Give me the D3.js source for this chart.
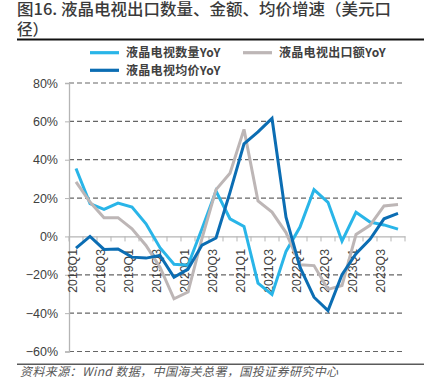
<!DOCTYPE html>
<html>
<head>
<meta charset="utf-8">
<script src="https://cdn.jsdelivr.net/npm/d3@7"></script>
<style>
  html, body { margin: 0; padding: 0; background: #fff; }
  svg { display: block; }
</style>
</head>
<body>
<svg id="chart" width="437" height="390"></svg>
<script>
// ---------- data ----------
const categories = [
  "2018Q1","2018Q2","2018Q3","2018Q4",
  "2019Q1","2019Q2","2019Q3","2019Q4",
  "2020Q1","2020Q2","2020Q3","2020Q4",
  "2021Q1","2021Q2","2021Q3","2021Q4",
  "2022Q1","2022Q2","2022Q3","2022Q4",
  "2023Q1","2023Q2","2023Q3","2023Q4"
];
const tickLabels = ["2018Q1","2018Q3","2019Q1","2019Q3","2020Q1","2020Q3",
                    "2021Q1","2021Q3","2022Q1","2022Q3","2023Q1","2023Q3"];
const qtyYoY = [35.4, 17.1, 14.1, 17.4, 15.3, 6.6, -5.9, -14.5,
                -15.0, 4.0, 23.7, 9.2, 5.2, -24.4, -30.3, -7.8,
                4.9, 24.4, 17.8, -2.5, 12.6, 7.5, 6.0, 3.8];
const amountYoY = [28.4, 17.9, 9.8, 9.8, 4.0, -4.7, -16.0, -32.5,
                   -29.0, -1.0, 24.4, 33.0, 55.8, 18.5, 12.7, 2.0,
                   -14.8, -15.2, -27.6, -25.6, 1.0, 5.8, 15.9, 16.6];
const priceYoY = [-6.1, 0.0, -6.8, -6.5, -10.8, -11.3, -9.9, -21.3,
                  -17.0, -4.5, -0.8, 23.0, 48.3, 54.5, 61.5, 10.0,
                  -16.0, -31.7, -38.7, -20.0, -9.0, -1.5, 9.2, 12.0];
const yTicks = [80, 60, 40, 20, 0, -20, -40, -60];
const seriesNames = ["液晶电视数量YoY", "液晶电视出口额YoY", "液晶电视均价YoY"];
const seriesColors = ["#29b5e8", "#bdb6b6", "#0b6db3"];
const titleLines = ["图16. 液晶电视出口数量、金额、均价增速（美元口", "径）"];
const sourceText = "资料来源：Wind 数据，中国海关总署，国投证券研究中心";

// ---------- layout ----------
const svg = d3.select("#chart");
const plot = { left: 69, right: 405, top: 83, bottom: 351.5 };
const cjk = "'Noto Sans CJK SC', 'Noto Sans', sans-serif";
const latin = "'Liberation Sans', Arial, sans-serif";

const x = d3.scaleBand().domain(categories).range([plot.left, plot.right]).padding(0);
const y = d3.scaleLinear().domain([-60, 80]).range([plot.bottom, plot.top]);
const cx = d => x(d) + x.bandwidth() / 2;

// title
const titleY = [14.5, 35];
const titles = svg.append("g").selectAll("text").data(titleLines).join("text")
  .attr("x", 17).attr("y", (d, i) => titleY[i])
  .attr("font-family", cjk).attr("font-size", 15.6).attr("font-weight", 500)
  .attr("fill", "#3a3a3a")
  .text(d => d);
titles.filter((d, i) => i === 0)
  .attr("textLength", 374).attr("lengthAdjust", "spacingAndGlyphs");
svg.append("line").attr("x1", 17).attr("x2", 424).attr("y1", 39.5).attr("y2", 39.5)
  .attr("stroke", "#111").attr("stroke-width", 1.8);

// gridlines
const grid = svg.append("g");
grid.selectAll("line").data(yTicks.filter(t => t !== 0)).join("line")
  .attr("x1", plot.left).attr("x2", plot.right)
  .attr("y1", d => y(d)).attr("y2", d => y(d))
  .attr("stroke", "#666").attr("stroke-width", 1.2)
  .attr("stroke-dasharray", "5,3");

// y axis
const yAxis = svg.append("g").attr("transform", `translate(${plot.left},0)`)
  .call(d3.axisLeft(y).tickValues(yTicks).tickSize(4).tickPadding(7)
    .tickFormat(d => (d < 0 ? "−" : "") + Math.abs(d) + "%"));
yAxis.select(".domain").attr("stroke", "#b5b5b5").attr("stroke-width", 1.3);
yAxis.selectAll(".tick line").attr("stroke", "#b5b5b5");
yAxis.selectAll(".tick text").attr("font-family", latin).attr("font-size", 12.5)
  .attr("fill", "#404040");

// x axis at 0
const xAxis = svg.append("g").attr("transform", `translate(0,${y(0)})`)
  .call(d3.axisBottom(x).tickValues([]).tickSizeOuter(0));
xAxis.select(".domain").attr("stroke", "#b5b5b5").attr("stroke-width", 1.3);
const boundaries = categories.map(c => x(c)).concat([plot.right]);
xAxis.selectAll(".bt").data(boundaries).join("line").attr("class", "bt")
  .attr("x1", d => d).attr("x2", d => d).attr("y1", 0).attr("y2", 5)
  .attr("stroke", "#b5b5b5").attr("stroke-width", 1);

// x labels (rotated)
svg.append("g").selectAll("text").data(tickLabels).join("text")
  .attr("transform", d => `translate(${cx(d) + 0.5},249) rotate(-90)`)
  .attr("text-anchor", "end")
  .attr("font-family", latin).attr("font-size", 12.3).attr("fill", "#404040")
  .text(d => d);

// lines
const allSeries = [qtyYoY, amountYoY, priceYoY];
const line = d3.line().x((d, i) => cx(categories[i])).y(d => y(d));
svg.append("g").selectAll("path").data(allSeries).join("path")
  .attr("d", d => line(d))
  .attr("fill", "none")
  .attr("stroke", (d, i) => seriesColors[i])
  .attr("stroke-width", 3)
  .attr("stroke-linejoin", "miter")
  .attr("stroke-miterlimit", 4);

// legend
const legendPos = [
  { lx: 90, ly: 52.7 },
  { lx: 243, ly: 52.7 },
  { lx: 90, ly: 70.3 }
];
const lg = svg.append("g").selectAll("g").data(seriesNames).join("g")
  .attr("transform", (d, i) => `translate(${legendPos[i].lx},${legendPos[i].ly})`);
lg.append("line").attr("x1", 0).attr("x2", 29).attr("y1", 0).attr("y2", 0)
  .attr("stroke", (d, i) => seriesColors[i]).attr("stroke-width", 3.2);
lg.append("text").attr("x", 36).attr("y", 4.5)
  .attr("font-family", cjk).attr("font-size", 12).attr("font-weight", 700)
  .attr("fill", "#404040").attr("letter-spacing", 0.3)
  .text(d => d);

// footer
svg.append("line").attr("x1", 17).attr("x2", 424).attr("y1", 364.3).attr("y2", 364.3)
  .attr("stroke", "#5a5a5a").attr("stroke-width", 1.4);
svg.append("text").attr("x", 20).attr("y", 376)
  .attr("font-family", cjk).attr("font-size", 12).attr("font-style", "italic")
  .attr("fill", "#595959").attr("letter-spacing", 0.4)
  .text(sourceText);
</script>
</body>
</html>
